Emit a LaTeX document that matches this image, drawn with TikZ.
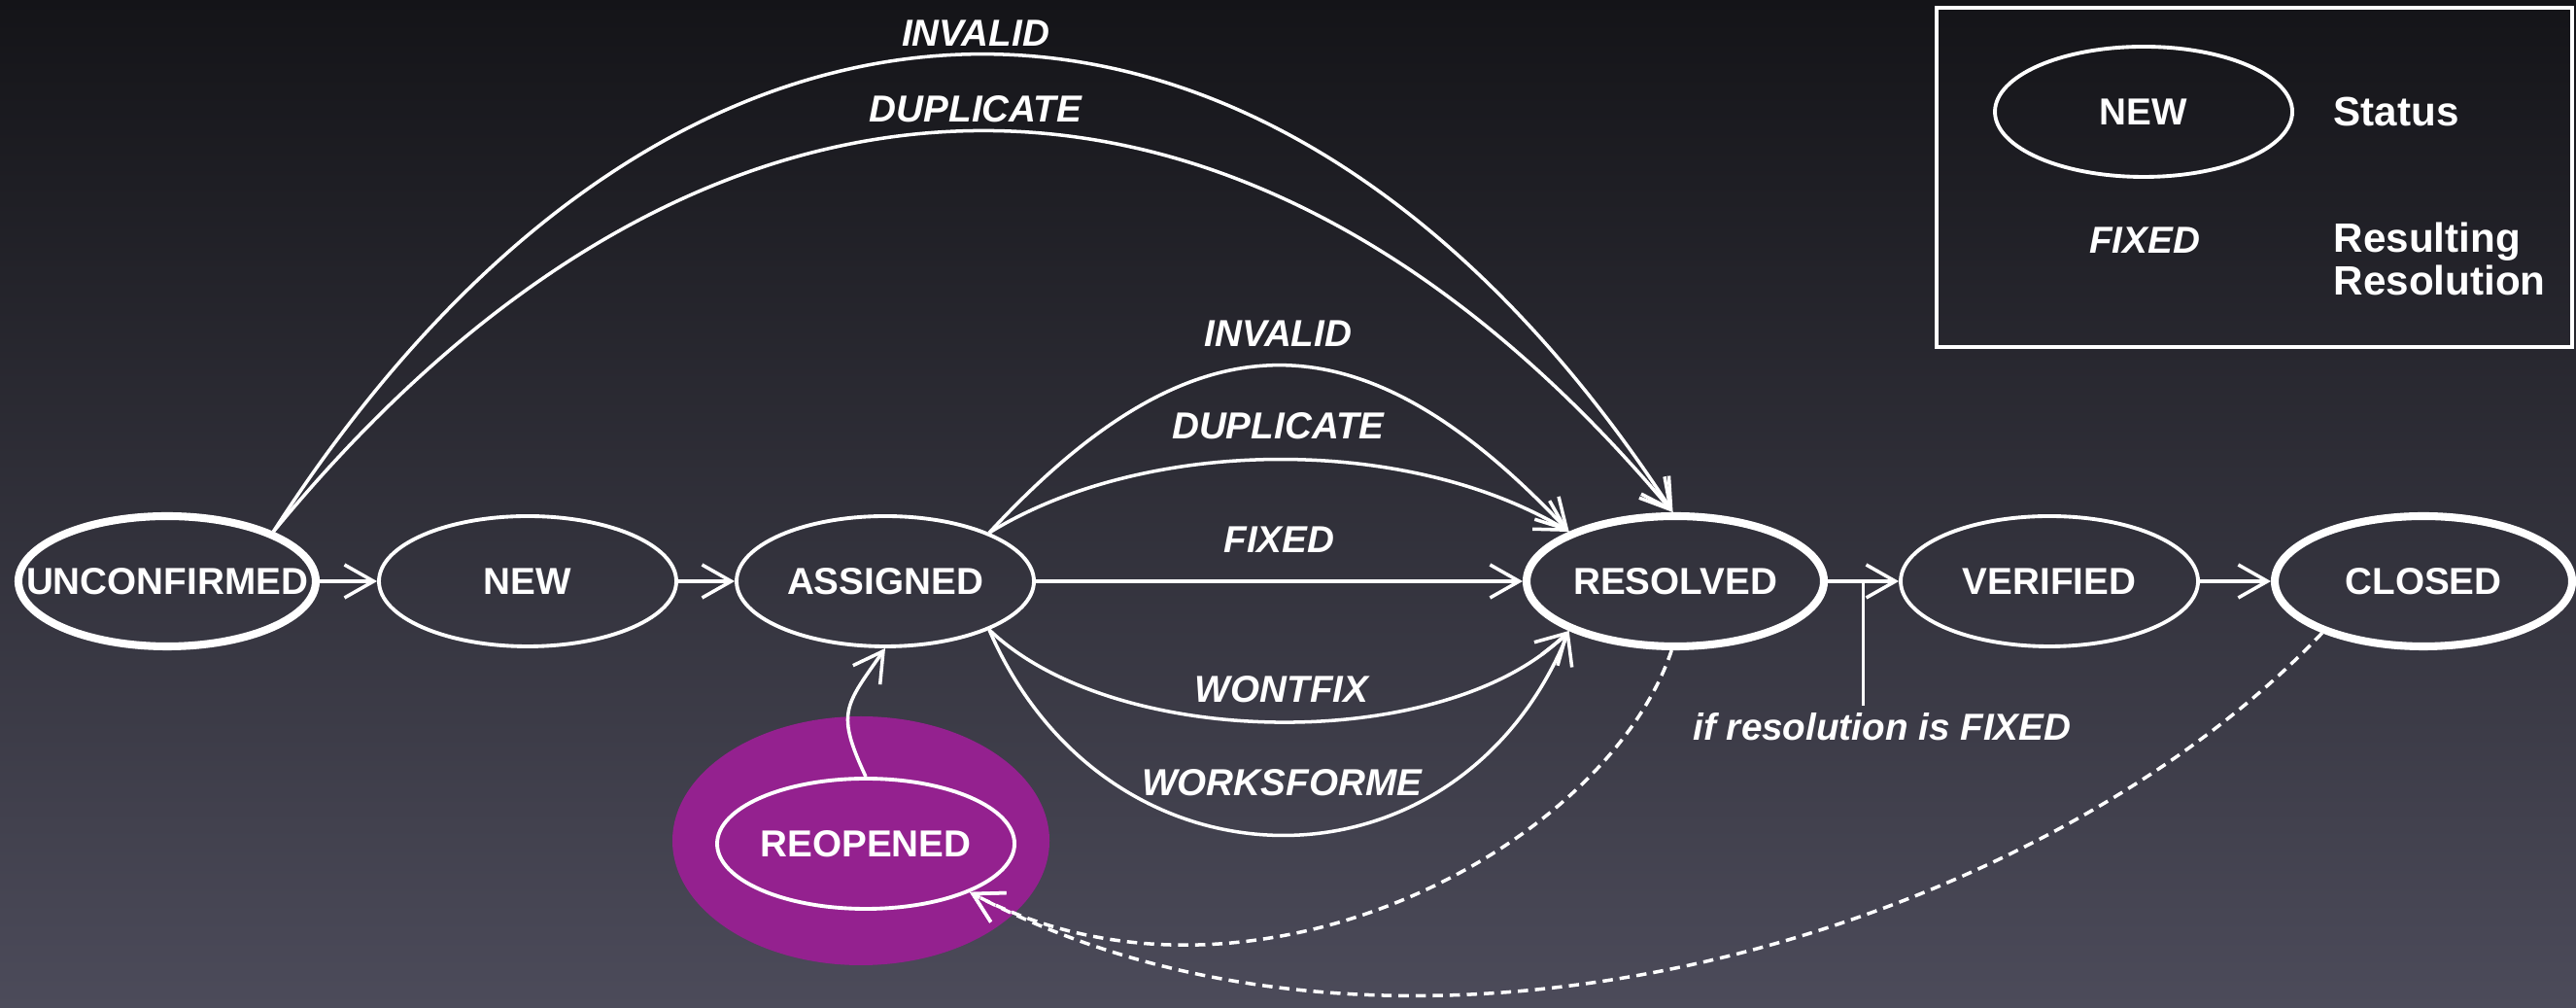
\documentclass[tikz,border=0pt]{standalone}
\usepackage{fontspec}
\setmainfont{Liberation Sans}
\usetikzlibrary{arrows.meta,positioning,shapes.geometric}

\definecolor{bgtop}{RGB}{20,20,24}
\definecolor{bgmid}{RGB}{42,42,52}
\definecolor{bgbot}{RGB}{76,75,90}
\definecolor{reopenfill}{RGB}{148,33,143}

\begin{document}
\begin{tikzpicture}[
    white, text=white,
    status/.style={draw, ellipse, line width=1.1pt, minimum width=3.06cm, minimum height=1.34cm, inner xsep=-0.4cm, inner ysep=0pt, font=\bfseries\fontsize{11}{13}\selectfont},
    endstatus/.style={status, line width=2.3pt},
    edge/.style={-{Straight Barb[length=3mm, width=3.4mm]}, line width=1pt},
    back/.style={edge, dash pattern=on 3pt off 2pt},
    res/.style={font=\bfseries\itshape\fontsize{11}{13}\selectfont, inner sep=2pt},
    legtext/.style={font=\bfseries\fontsize{12}{12.5}\selectfont, inner sep=0pt, anchor=west, align=left}
]
    \useasboundingbox (0,0) rectangle (26.51,10.37);
    \shade[top color=bgtop, middle color=bgmid, bottom color=bgbot] (0,0) rectangle (26.51,10.37);
    \fill[reopenfill] (8.86,1.72) ellipse (1.94 and 1.28);

    \node[endstatus] (unconf) at (1.72,4.39) {UNCONFIRMED};
    \node[status] (new) at (5.43,4.39) {NEW};
    \node[status] (assigned) at (9.11,4.39) {ASSIGNED};
    \node[endstatus] (resolved) at (17.24,4.39) {RESOLVED};
    \node[status] (verified) at (21.09,4.39) {VERIFIED};
    \node[endstatus] (closed) at (24.94,4.39) {CLOSED};
    \node[status] (reopened) at (8.91,1.69) {REOPENED};

    \draw[edge] (unconf) -- (new);
    \draw[edge] (new) -- (assigned);
    \draw[edge] (assigned) -- node[res, above=6pt] {FIXED} (resolved);
    \draw[edge] (resolved) -- coordinate[midway] (cond) (verified);
    \draw[edge] (verified) -- (closed);

    \node[res] (condtxt) at (19.37,2.89) {if resolution is FIXED};
    \draw[line width=1pt] (cond) -- (cond |- condtxt.north);

    \draw[edge] (unconf.25) .. controls (7.0,11.41) and (13.1,11.41) .. node[res, midway, above] {INVALID} (resolved.92);
    \draw[edge] (unconf.25) .. controls (7.3,10.36) and (12.8,10.36) .. node[res, midway, above] {DUPLICATE} (resolved.92);
    \draw[edge] (assigned.25) .. controls (12.3,7.18) and (14.0,7.18) .. node[res, midway, above=3pt] {INVALID} (resolved.155);
    \draw[edge] (assigned.25) .. controls (11.8,5.89) and (14.5,5.89) .. node[res, midway, above=3.5pt] {DUPLICATE} (resolved.155);
    \draw[edge] (assigned.-25) .. controls (11.5,2.63) and (14.9,2.63) .. node[res, midway, above=3pt] {WONTFIX} (resolved.205);
    \draw[edge] (assigned.-25) .. controls (11.4,1.08) and (15.0,1.08) .. node[res, midway, above=9pt] {WORKSFORME} (resolved.205);

    \draw[edge] (reopened.north) to[out=115, in=235, looseness=1.4] (assigned.south);
    \draw[back] (resolved.267) .. controls (16.5,1.6) and (12.8,-0.3) .. (reopened.335);
    \draw[back] (closed.207) .. controls (21.0,0.8) and (14.5,-1.2) .. (reopened.335);

    \draw[line width=1pt] (19.93,6.80) rectangle (26.47,10.29);
    \node[status] (legstatus) at (22.06,9.22) {NEW};
    \node[legtext] (legstatustxt) at (24.01,9.22) {Status};
    \node[res] (legres) at (22.07,7.90) {FIXED};
    \node[legtext] (legrestxt) at (24.01,7.71) {Resulting\\Resolution};
\end{tikzpicture}
\end{document}
